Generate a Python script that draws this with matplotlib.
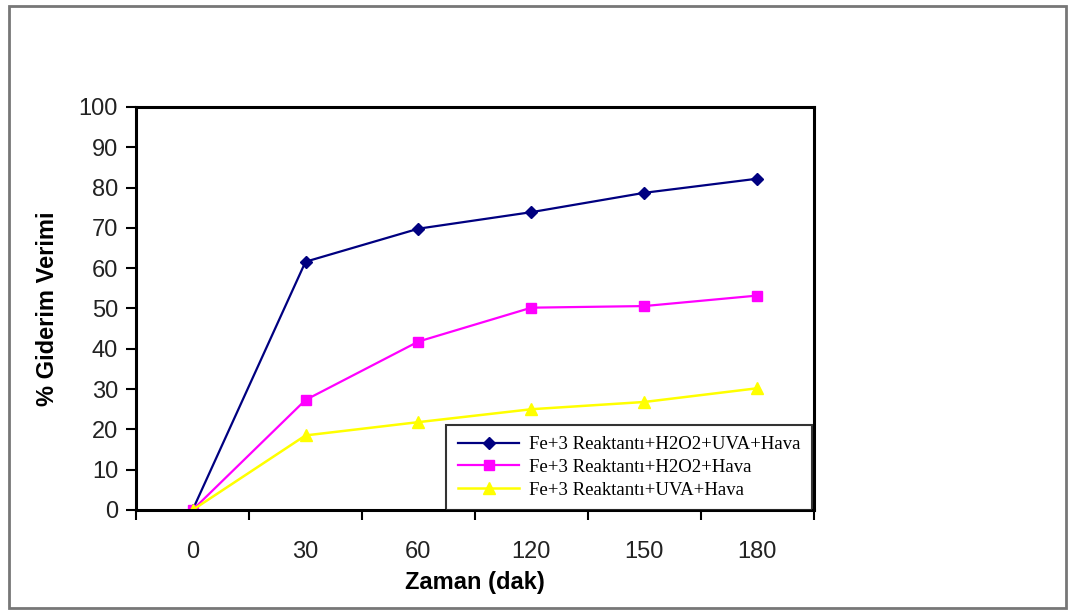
import matplotlib.pyplot as plt
from matplotlib import font_manager
from matplotlib.patches import Rectangle

# Zaman noktaları (kategori ekseni) ve giderim verimleri
zaman = ['0', '30', '60', '120', '150', '180']
h2o2_uva_hava = [0, 61.6, 69.8, 73.9, 78.7, 82.2]
h2o2_hava = [0, 27.3, 41.8, 50.2, 50.6, 53.2]
uva_hava = [0, 18.5, 21.8, 25.0, 26.8, 30.2]

seri_adlari = ['Fe+3 Reaktantı+H2O2+UVA+Hava',
               'Fe+3 Reaktantı+H2O2+Hava',
               'Fe+3 Reaktantı+UVA+Hava']

installed = {f.name for f in font_manager.fontManager.ttflist}
sans = 'Liberation Sans Narrow' if 'Liberation Sans Narrow' in installed else 'Liberation Sans'

fig = plt.figure(figsize=(10.72, 6.12), dpi=100)
ax = fig.add_axes([0.127, 0.1667, 0.632, 0.6585])

x = list(range(len(zaman)))
ax.plot(x, h2o2_uva_hava, color='#000080', marker='D', markersize=6, lw=1.6,
        label=seri_adlari[0])
ax.plot(x, h2o2_hava, color='#FF00FF', marker='s', markersize=7, lw=1.6,
        label=seri_adlari[1])
ax.plot(x, uva_hava, color='#FFFF00', marker='^', markersize=8, lw=1.8,
        label=seri_adlari[2])

ax.set_xlim(-0.5, len(zaman) - 0.5)
ax.set_ylim(0, 100)
ax.set_yticks(range(0, 101, 10))
ax.set_xticks(x)
ax.set_xticklabels(zaman)
ax.set_xticks([i - 0.5 for i in range(len(zaman) + 1)], minor=True)
ax.tick_params(axis='x', which='major', length=0, pad=22)
ax.tick_params(axis='x', which='minor', length=7, width=1.5, direction='out')
ax.tick_params(axis='y', length=7, width=1.5, direction='out', pad=6)
for lab in ax.get_xticklabels() + ax.get_yticklabels():
    lab.set_fontfamily(sans)
    lab.set_fontsize(17)
    lab.set_color('#222222')

for side in ['left', 'bottom', 'top', 'right']:
    ax.spines[side].set_linewidth(2.2)

ax.set_xlabel('Zaman (dak)', fontfamily=sans, fontsize=17, fontweight='bold',
              labelpad=6)
ax.set_ylabel('% Giderim Verimi', fontfamily=sans, fontsize=17,
              fontweight='bold', labelpad=14)

leg = ax.legend(loc='lower right', bbox_to_anchor=(0.997, 0.0), borderaxespad=0,
                frameon=True, fancybox=False, edgecolor='black',
                prop={'family': 'Liberation Serif', 'size': 13.5},
                handlelength=3.3, handletextpad=0.5, labelspacing=0.3,
                borderpad=0.6)
leg.get_frame().set_linewidth(1.5)

# Dış çerçeve
fig.patches.append(Rectangle((0.008, 0.006), 0.986, 0.985,
                             transform=fig.transFigure, fill=False,
                             edgecolor='#777777', linewidth=2))

fig.savefig('out.png', dpi=100)
